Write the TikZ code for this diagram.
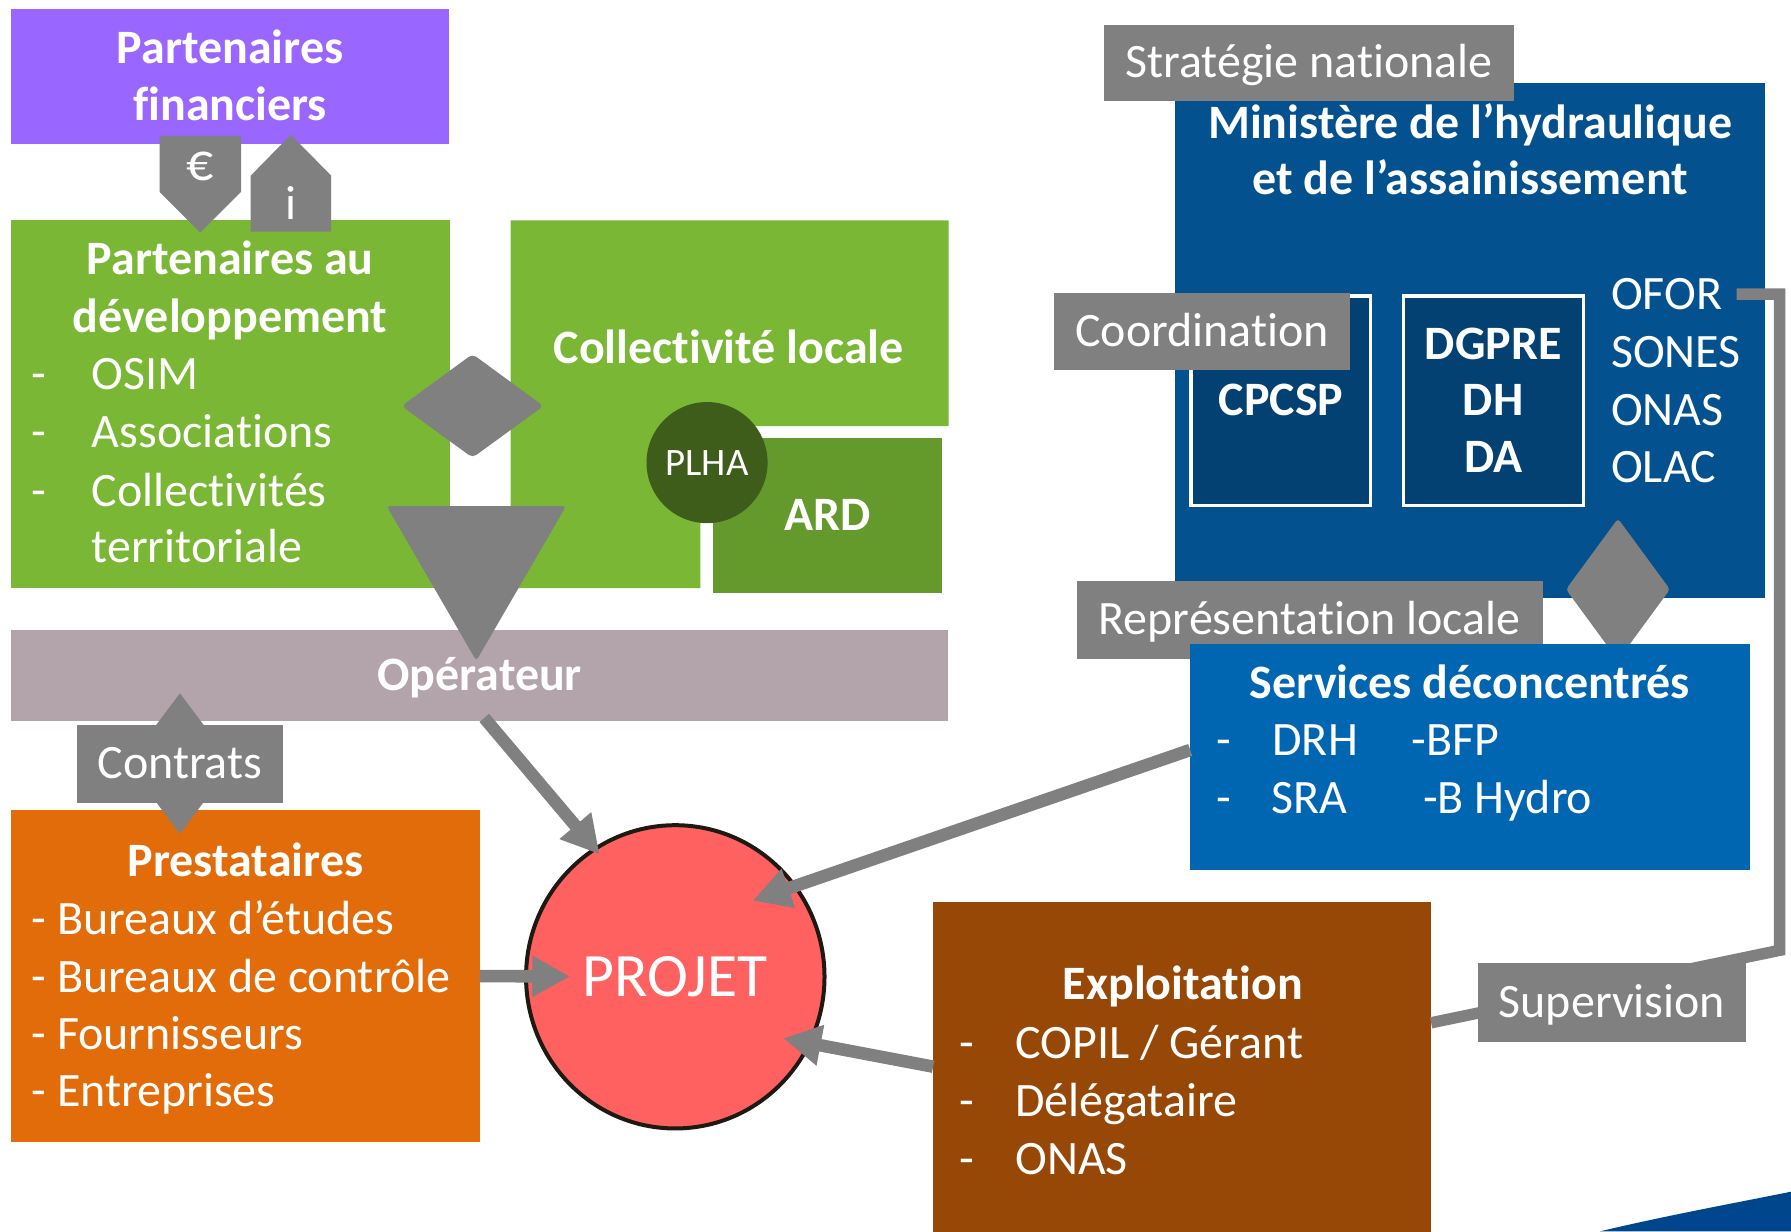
\documentclass[tikz,border=0pt]{standalone}
\usepackage{fontspec}
\setmainfont{Carlito}[Ligatures=CommonOff]
\usetikzlibrary{arrows.meta,shapes.geometric,calc}
\definecolor{cPurple}{RGB}{153,102,255}
\definecolor{cGreen}{RGB}{122,183,52}
\definecolor{cGreenD}{RGB}{100,153,43}
\definecolor{cPlha}{RGB}{62,92,26}
\definecolor{cGray}{RGB}{128,128,128}
\definecolor{cOp}{RGB}{179,163,170}
\definecolor{cOrange}{RGB}{227,108,10}
\definecolor{cRed}{RGB}{255,96,96}
\definecolor{cBorder}{RGB}{30,25,18}
\definecolor{cMin}{RGB}{3,81,142}
\definecolor{cMinD}{RGB}{3,65,114}
\definecolor{cServ}{RGB}{0,102,178}
\definecolor{cBrown}{RGB}{152,72,6}
\definecolor{cSwoosh}{RGB}{0,70,140}
\newcommand\fsA{\fontsize{42}{50}\selectfont}
\newcommand\fsB{\fontsize{34}{40}\selectfont}
\newcommand\fsC{\fontsize{54}{64}\selectfont}
\newcommand\fsE{\fontsize{47}{50}\selectfont}
\begin{document}
\begin{tikzpicture}[x=1pt,y=-1pt,
  boxn/.style={rectangle,inner sep=0pt,outer sep=0pt,draw=none},
  lbl/.style={rectangle,fill=cGray,inner sep=0pt,outer sep=0pt,text=white,font=\fsA,text height=32pt,text depth=6pt},
  tw/.style={inner sep=0pt,outer sep=0pt,text=white,font=\fsA,anchor=base},
  twl/.style={tw,anchor=base west},
  tb/.style={tw,font=\fsA\bfseries},
  conn/.style={draw=cGray,line width=11pt,-{Triangle[length=33pt,width=34pt]}},
  sline/.style={draw=cGray,line width=10pt},
]
\useasboundingbox (0,0) rectangle (1568,1078);
\clip (0,0) rectangle (1568,1078);

% ---------- left top ----------
\node[boxn,fill=cPurple,minimum width=383pt,minimum height=118pt] (pf) at (201.5,67) {};
\node[tb] (pf1) at (201.5,55.4) {Partenaires};
\node[tb] (pf2) at (201.5,105.6) {financiers};

\node[boxn,fill=cGreen,minimum width=383.6pt,minimum height=322pt] (pd) at (201.8,354) {};
\fill[cGreen] (447,193) -- (830.6,193) -- (830.6,373) -- (613.2,373) -- (613.2,515) -- (447,515) -- cycle;
\node[tb] (coll) at (638,318) {Collectivité locale};
\node[boxn,fill=cGreenD,minimum width=200.8pt,minimum height=135.1pt,text=white,font=\fsA\bfseries,text height=32pt,text depth=6pt] (ard) at (724.6,451.4) {ARD};
\node[circle,fill=cPlha,minimum size=106pt,inner sep=0pt,text=white,font=\fsB] (plha) at (619,405) {PLHA};

% euro / info shapes
\fill[cGray] (139.7,119) -- (211,119) -- (211,168) -- (175.3,203.7) -- (139.7,168) -- cycle;
\fill[cGray] (219.5,202.8) -- (219.5,153.8) -- (254.6,118) -- (290,153.8) -- (290,202.8) -- cycle;
\node[tw,anchor=center,font=\fsE] (euro) at (175,146) {€};
\node[tw,anchor=center] (info) at (254.6,178) {i};

% development partners text
\node[tb] (pd1) at (201.5,239.9) {Partenaires au};
\node[tb] (pd2) at (201.5,291.3) {développement};
\node[twl] (pdd1) at (27.7,341.4) {-};
\node[twl] (pdd2) at (27.7,392) {-};
\node[twl] (pdd3) at (27.7,443) {-};
\node[twl] (pdi1) at (80.3,341.4) {OSIM};
\node[twl] (pdi2) at (80.3,392) {Associations};
\node[twl] (pdi3) at (80.3,443) {Collectivités};
\node[twl] (pdi4) at (80.3,492.6) {territoriale};

% operator bar
\node[boxn,fill=cOp,minimum width=820pt,minimum height=79.1pt,text=white,font=\fsA\bfseries,text height=32pt,text depth=6pt] (op) at (420,591.5) {Opérateur};

% diamond and big triangle
\fill[cGray,rounded corners=4pt] (413.7,310) -- (475.8,355.5) -- (413.7,400.7) -- (351.6,355.5) -- cycle;
\fill[cGray,rounded corners=3pt] (338.5,443) -- (495.6,443) -- (417,578.5) -- cycle;

% prestataires
\node[boxn,fill=cOrange,minimum width=410pt,minimum height=291pt] (prest) at (215,854.5) {};
\node[tb] (pr0) at (215,767.6) {Prestataires};
\node[twl] (pr1) at (27.6,817.7) {- Bureaux d’études};
\node[twl] (pr2) at (27.6,868.5) {- Bureaux de contrôle};
\node[twl] (pr3) at (27.6,918.6) {- Fournisseurs};
\node[twl] (pr4) at (27.6,968.7) {- Entreprises};

% contrats
\fill[cGray] (157.5,607) -- (186,645) -- (129,645) -- cycle;
\fill[cGray] (157.5,730) -- (186,692) -- (129,692) -- cycle;
\node[lbl,minimum width=181pt,minimum height=68pt] (contrats) at (157.5,668.6) {Contrats};

% ---------- ministry ----------
\node[boxn,fill=cMin,minimum width=516.3pt,minimum height=450.8pt] (min) at (1286.9,298.4) {};
\node[lbl,minimum width=359pt,minimum height=67pt] (strat) at (1146,55) {Stratégie nationale};
\node[tb] (min1) at (1287,121.3) {Ministère de l’hydraulique};
\node[tb] (min2) at (1287,170.6) {et de l’assainissement};

\node[boxn,fill=cMinD,draw=white,line width=3pt,minimum width=157.2pt,minimum height=183.5pt] (cpcsp) at (1121.4,350.75) {};
\node[boxn,fill=cMinD,draw=white,line width=3pt,minimum width=157.7pt,minimum height=183.5pt] (dg) at (1307.35,350.75) {};
\node[lbl,minimum width=258.8pt,minimum height=67.2pt] (coord) at (1052.4,290.4) {Coordination};
\node[tb] (cp1) at (1121.6,363.7) {CPCSP};
\node[tb] (dg1) at (1307.3,314.4) {DGPRE};
\node[tb] (dg2) at (1307.3,363.7) {DH};
\node[tb] (dg3) at (1307.3,413.6) {DA};
\node[twl] (ofor) at (1410.5,271) {OFOR};
\node[twl] (sones) at (1410.5,321.6) {SONES};
\node[twl] (onas1) at (1410.5,372.3) {ONAS};
\node[twl] (olac) at (1410.5,422.2) {OLAC};

\fill[cGray,rounded corners=3pt] (1416.5,454) -- (1462,516) -- (1416.5,578) -- (1371,516) -- cycle;
\node[lbl,minimum width=408pt,minimum height=68pt] (repr) at (1146.6,542.7) {Représentation locale};

% services
\node[boxn,fill=cServ,minimum width=490pt,minimum height=198.2pt] (serv) at (1287,662.9) {};
\node[tb] (sv0) at (1287,611.4) {Services déconcentrés};
\node[twl] (svd1) at (1064.7,661.6) {-};
\node[twl] (svd2) at (1064.7,712) {-};
\node[twl] (sv1) at (1114,661.6) {DRH};
\node[twl] (sv2) at (1235.8,661.6) {-BFP};
\node[twl] (sv3) at (1113.5,712) {SRA};
\node[twl] (sv4) at (1245.9,712) {-B Hydro};

% exploitation
\node[boxn,fill=cBrown,minimum width=436pt,minimum height=295.3pt] (exp) at (1034.9,937.35) {};
\node[tb] (ex0) at (1035.5,875.2) {Exploitation};
\node[twl] (exd1) at (839.7,926.5) {-};
\node[twl] (exd2) at (839.7,977.9) {-};
\node[twl] (exd3) at (839.7,1028.5) {-};
\node[twl] (ex1) at (888.9,926.5) {COPIL / Gérant};
\node[twl] (ex2) at (888.9,977.9) {Délégataire};
\node[twl] (ex3) at (888.9,1028.5) {ONAS};

% supervision connector
\coordinate (bend) at (1558,832);
\draw[sline] ($(ofor.east)+(12.5,0)$) -| (bend) -- ($(exp.east)+(0,-41.9)$);
\node[lbl,minimum width=234pt,minimum height=69.3pt] (sup) at (1411.25,878) {Supervision};

% ---------- project ----------
\node[ellipse,fill=cRed,draw=cBorder,line width=3.5pt,minimum width=261.3pt,minimum height=265.5pt,inner sep=0pt,text=white,font=\fsC] (projet) at (591.2,855.2) {PROJET};

\draw[conn] ($(op.south)+(4,-2.5)$) -- ($(projet.center)+(-66.2,-107.2)$);
\draw[conn] (prest.east) -- ($(projet.center)+(-92.2,-0.3)$);
\draw[conn] ($(serv.west)+(0,-6.3)$) -- ($(projet.center)+(67.8,-66.7)$);
\draw[conn] ($(exp.west)+(0,-3.5)$) -- ($(projet.center)+(94.6,53.8)$);

% corner swoosh
\fill[cSwoosh] (1400.8,1078) .. controls (1460,1064) and (1510,1055) .. (1568,1043.3) -- (1568,1078) -- cycle;
\end{tikzpicture}
\end{document}
